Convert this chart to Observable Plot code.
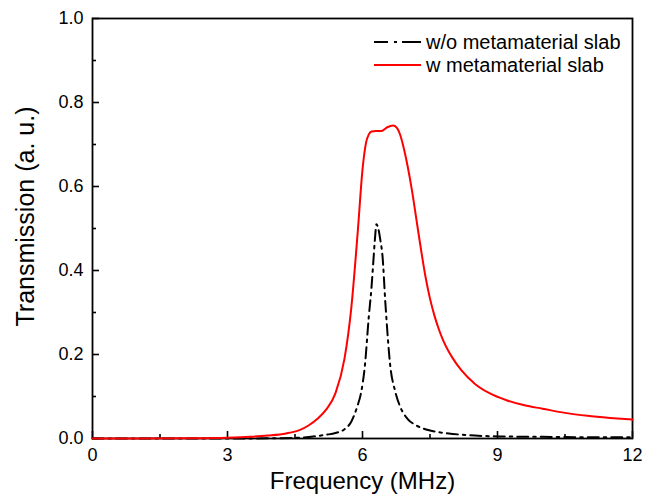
<!DOCTYPE html>
<html>
<head>
<meta charset="utf-8">
<script src="https://cdn.jsdelivr.net/npm/d3@7"></script>
<script src="https://cdn.jsdelivr.net/npm/@observablehq/plot@0.6"></script>
<style>
  body { margin: 0; background: #fff; }
  #chart svg { display: block; }
</style>
</head>
<body>
<div id="chart"></div>
<script>
// ---- data ----
const seriesNames = ["w/o metamaterial slab", "w metamaterial slab"];

const freqWith = [0, 1, 2, 3, 3.5, 3.9, 4.3, 4.6, 4.8, 5.0, 5.2, 5.4, 5.6, 5.75, 5.9, 6.0, 6.08, 6.14, 6.2, 6.3, 6.42, 6.55, 6.68, 6.76, 6.84, 6.92, 7.0, 7.1, 7.2, 7.3, 7.4, 7.5, 7.6, 7.7, 7.8, 7.9, 8.0, 8.2, 8.5, 8.8, 9.2, 9.6, 10.0, 10.5, 11.0, 11.5, 12.0];
const transWith = [0, 0, 0.0005, 0.002, 0.004, 0.007, 0.012, 0.020, 0.031, 0.047, 0.070, 0.108, 0.19, 0.31, 0.5, 0.64, 0.705, 0.724, 0.731, 0.732, 0.732, 0.741, 0.745, 0.74, 0.722, 0.69, 0.65, 0.59, 0.52, 0.45, 0.385, 0.333, 0.292, 0.259, 0.232, 0.21, 0.192, 0.162, 0.13, 0.109, 0.091, 0.079, 0.071, 0.061, 0.054, 0.049, 0.045];

const freqWithout = [0, 3, 4, 4.6, 5.0, 5.2, 5.4, 5.6, 5.75, 5.88, 5.97, 6.05, 6.14, 6.2, 6.24, 6.28, 6.31, 6.35, 6.4, 6.44, 6.51, 6.62, 6.72, 6.84, 7.0, 7.2, 7.5, 7.75, 8.0, 8.5, 9.0, 10.0, 11.0, 12.0];
const transWithout = [0, 0, 0.0005, 0.002, 0.006, 0.009, 0.013, 0.022, 0.040, 0.075, 0.11, 0.17, 0.29, 0.36, 0.42, 0.48, 0.51, 0.50, 0.47, 0.44, 0.32, 0.17, 0.115, 0.075, 0.047, 0.031, 0.019, 0.014, 0.011, 0.007, 0.005, 0.004, 0.003, 0.003];

const xTicks = [0, 3, 6, 9, 12];
const xMinorTicks = [1.5, 4.5, 7.5, 10.5];
const yTicks = [0, 0.2, 0.4, 0.6, 0.8, 1.0];
const yMinorTicks = [0.1, 0.3, 0.5, 0.7, 0.9];
const xLabel = "Frequency (MHz)";
const yLabel = "Transmission (a. u.)";

// ---- layout ----
const W = 646, H = 502;
const mL = 92, mR = 14, mT = 18, mB = 64;
const innerW = W - mL - mR, innerH = H - mT - mB;
const font = "'Liberation Sans', Arial, sans-serif";

const withData = freqWith.map((f, i) => ({f, t: transWith[i]}));
const withoutData = freqWithout.map((f, i) => ({f, t: transWithout[i]}));

const plot = Plot.plot({
  width: W,
  height: H,
  marginLeft: mL,
  marginRight: mR,
  marginTop: mT,
  marginBottom: mB,
  style: {fontFamily: font, background: "#fff", color: "#000", overflow: "visible"},
  x: {domain: [0, 12]},
  y: {domain: [0, 1]},
  marks: [
    Plot.axisX(xTicks, {tickSize: 0, tickPadding: 10, fontSize: 18, tickFormat: d => String(d), label: null}),
    Plot.axisY(yTicks, {tickSize: 0, tickPadding: 9, fontSize: 18, tickFormat: d3.format(".1f"), label: null}),
    Plot.frame({stroke: "#000", strokeWidth: 1.8}),
    Plot.tickX(xTicks, {x: d => d, insetTop: innerH - 7, stroke: "#000", strokeWidth: 1.6}),
    Plot.tickX(xMinorTicks, {x: d => d, insetTop: innerH - 4, stroke: "#000", strokeWidth: 1.6}),
    Plot.tickY(yTicks, {y: d => d, insetRight: innerW - 7, stroke: "#000", strokeWidth: 1.6}),
    Plot.tickY(yMinorTicks, {y: d => d, insetRight: innerW - 4, stroke: "#000", strokeWidth: 1.6}),
    Plot.line(withoutData, {x: "f", y: "t", stroke: "#000", strokeWidth: 2, strokeDasharray: "11,5,2.5,5", curve: "monotone-x"}),
    Plot.line(withData, {x: "f", y: "t", stroke: "#ff0000", strokeWidth: 2, curve: "monotone-x"}),
    Plot.text([xLabel], {frameAnchor: "bottom", dy: 50, fontSize: 24, fill: "#000", textAnchor: "middle"}),
    Plot.text([yLabel], {frameAnchor: "left", dx: -67, dy: -12, rotate: -90, fontSize: 25, fill: "#000", textAnchor: "middle"})
  ]
});

// ---- legend ----
const svg = d3.select(plot);
const legend = svg.append("g").attr("font-family", font).attr("font-size", 20).attr("text-anchor", "start");
const legendStyles = [
  {stroke: "#000", dash: "14,6,3,5,8,0"},
  {stroke: "#ff0000", dash: null}
];
seriesNames.forEach((name, i) => {
  const y = 42 + i * 23;
  const ln = legend.append("line")
    .attr("x1", 374).attr("x2", 421).attr("y1", y).attr("y2", y)
    .attr("stroke", legendStyles[i].stroke).attr("stroke-width", 2);
  if (legendStyles[i].dash) ln.attr("stroke-dasharray", legendStyles[i].dash);
  legend.append("text")
    .attr("x", 426).attr("y", y).attr("dy", "0.35em")
    .attr("text-anchor", "start")
    .attr("fill", "#000")
    .text(name);
});

document.getElementById("chart").appendChild(plot);
</script>
</body>
</html>
